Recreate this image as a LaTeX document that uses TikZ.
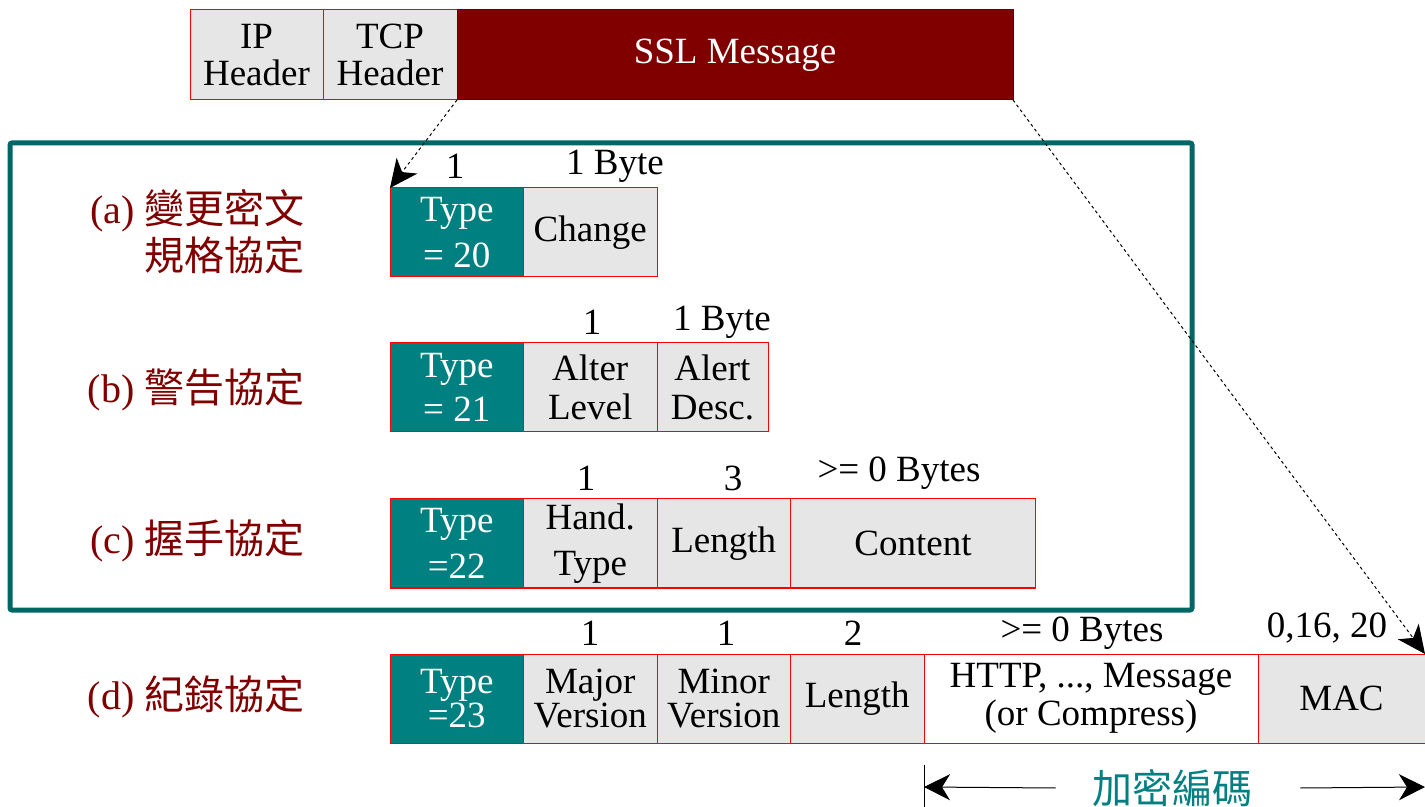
\documentclass[tikz,border=0pt]{standalone}
\usepackage{fontspec}
\setmainfont{Liberation Serif}
\newfontfamily\cjk{Noto Sans CJK TC}
\usetikzlibrary{
  arrows.meta,
  calc,
  positioning,
}
\definecolor{sslred}{HTML}{800000}
\definecolor{labelred}{HTML}{800000}
\definecolor{typeteal}{HTML}{008080}
\definecolor{frameteal}{HTML}{006666}
\definecolor{cellgray}{HTML}{E6E6E6}
\tikzset{
  field/.style={draw=red, line width=0.5pt, fill=cellgray,
    minimum height=44.5pt, minimum width=66.75pt,
    inner sep=0pt, outer sep=0pt, align=center,
    font=\fontsize{18.5}{23}\selectfont},
  typefield/.style={field, fill=typeteal, text=white},
  tight/.style={font=\fontsize{18.5}{#1}\selectfont},
  size/.style={inner sep=0pt, font=\fontsize{18.5}{23}\selectfont},
  proto/.style={anchor=east, align=right, inner sep=0pt, text=labelred,
    font=\fontsize{20}{23.5}\selectfont},
  ptr/.style={-{Stealth[length=14pt,width=13pt,inset=4pt]}, line width=0.5pt,
    dash pattern=on 1.5pt off 1.5pt},
  span/.style={-{Stealth[length=13pt,width=13pt,inset=4pt]}, line width=0.5pt},
}

\begin{document}
\begin{tikzpicture}[x=0.5pt, y=-0.5pt]
  \useasboundingbox (0,0) rectangle (1425,807);

  \node [field, tight=18.5, anchor=north west, minimum width=66.5pt, minimum height=45pt] (ip) at (190,10) {IP\\Header};
  \node [field, tight=18.5, right=0pt of ip, minimum width=67pt, minimum height=45pt] (tcp) {TCP\\Header};
  \node [field, right=0pt of tcp, draw=blue, fill=sslred, text=white,
         minimum width=278pt, minimum height=45pt] (ssl) {SSL Message};

  \draw [frameteal, line width=2.5pt, rounded corners=1pt] (10,143) rectangle (1192,610);

  % (a)
  \node [proto] (pa) at (305,232) {(a) {\cjk 變更密文}\\{\cjk 規格協定}};
  \node [typefield, anchor=north west] (ta) at (390,188) {Type\\= 20};
  \node [field, right=0pt of ta] (chg) {Change};
  \node [size] (sa1) at (455,166) {1};
  \node [size] (sa2) at (615,166) {1 Byte};

  % (b)
  \node [proto] (pb) at (305,390) {(b) {\cjk 警告協定}};
  \node [typefield, tight=22, anchor=north west] (tb) at (390,343) {Type\\= 21};
  \node [field, tight=19.5, right=0pt of tb] (lvl) {Alter\\Level};
  \node [field, tight=19.5, right=0pt of lvl, minimum width=55.5pt] (desc) {Alert\\Desc.};
  \node [size] (sb1) at (592,322) {1};
  \node [size] (sb2) at (722,322) {1 Byte};

  % (c)
  \node [proto] (pc) at (305,541) {(c) {\cjk 握手協定}};
  \node [typefield, anchor=north west] (tc) at (390,499) {Type\\=22};
  \node [field, right=0pt of tc] (hand) {Hand.\\Type};
  \node [field, right=0pt of hand] (hlen) {Length};
  \node [field, right=0pt of hlen, minimum width=122.5pt] (cont) {Content};
  \node [size] (sc1) at (586,478) {1};
  \node [size] (sc2) at (733,478) {3};
  \node [size] (sc3) at (899,473) {>= 0 Bytes};

  % (d)
  \node [proto] (pd) at (305,697) {(d) {\cjk 紀錄協定}};
  \node [typefield, tight=17, anchor=north west] (td) at (390,654) {Type\\=23};
  \node [field, tight=17, right=0pt of td] (major) {Major\\Version};
  \node [field, tight=17, right=0pt of major] (minor) {Minor\\Version};
  \node [field, right=0pt of minor] (rlen) {Length};
  \node [field, tight=19, right=0pt of rlen, fill=white, minimum width=167pt] (http) {HTTP, ..., Message\\(or Compress)};
  \node [field, right=0pt of http, minimum width=83.5pt] (mac) {MAC};
  \node [size] (sd1) at (590,633) {1};
  \node [size] (sd2) at (726,633) {1};
  \node [size] (sd3) at (853,633) {2};
  \node [size] (sd4) at (1082,633) {>= 0 Bytes};
  \node [size] (sd5) at (1327,628) {0,16, 20};

  \draw [ptr] (ssl.south west) -- (ta.north west);
  \draw [ptr] (ssl.south east) -- (mac.north east);

  \coordinate (encL) at ($(http.south west)+(0,44)$);
  \coordinate (encR) at (mac.east |- encL);
  \node [inner sep=0pt, text=typeteal, font=\cjk\fontsize{20}{24}\selectfont] (enc) at (1172,788) {加密編碼};
  \draw [line width=0.5pt] ($(encL)+(0,-22)$) -- ($(encL)+(0,22)$);
  \draw [span] ($(enc.west)+(-36,0)$) -- (encL);
  \draw [span] ($(enc.east)+(48,0)$) -- (encR);
\end{tikzpicture}
\end{document}
